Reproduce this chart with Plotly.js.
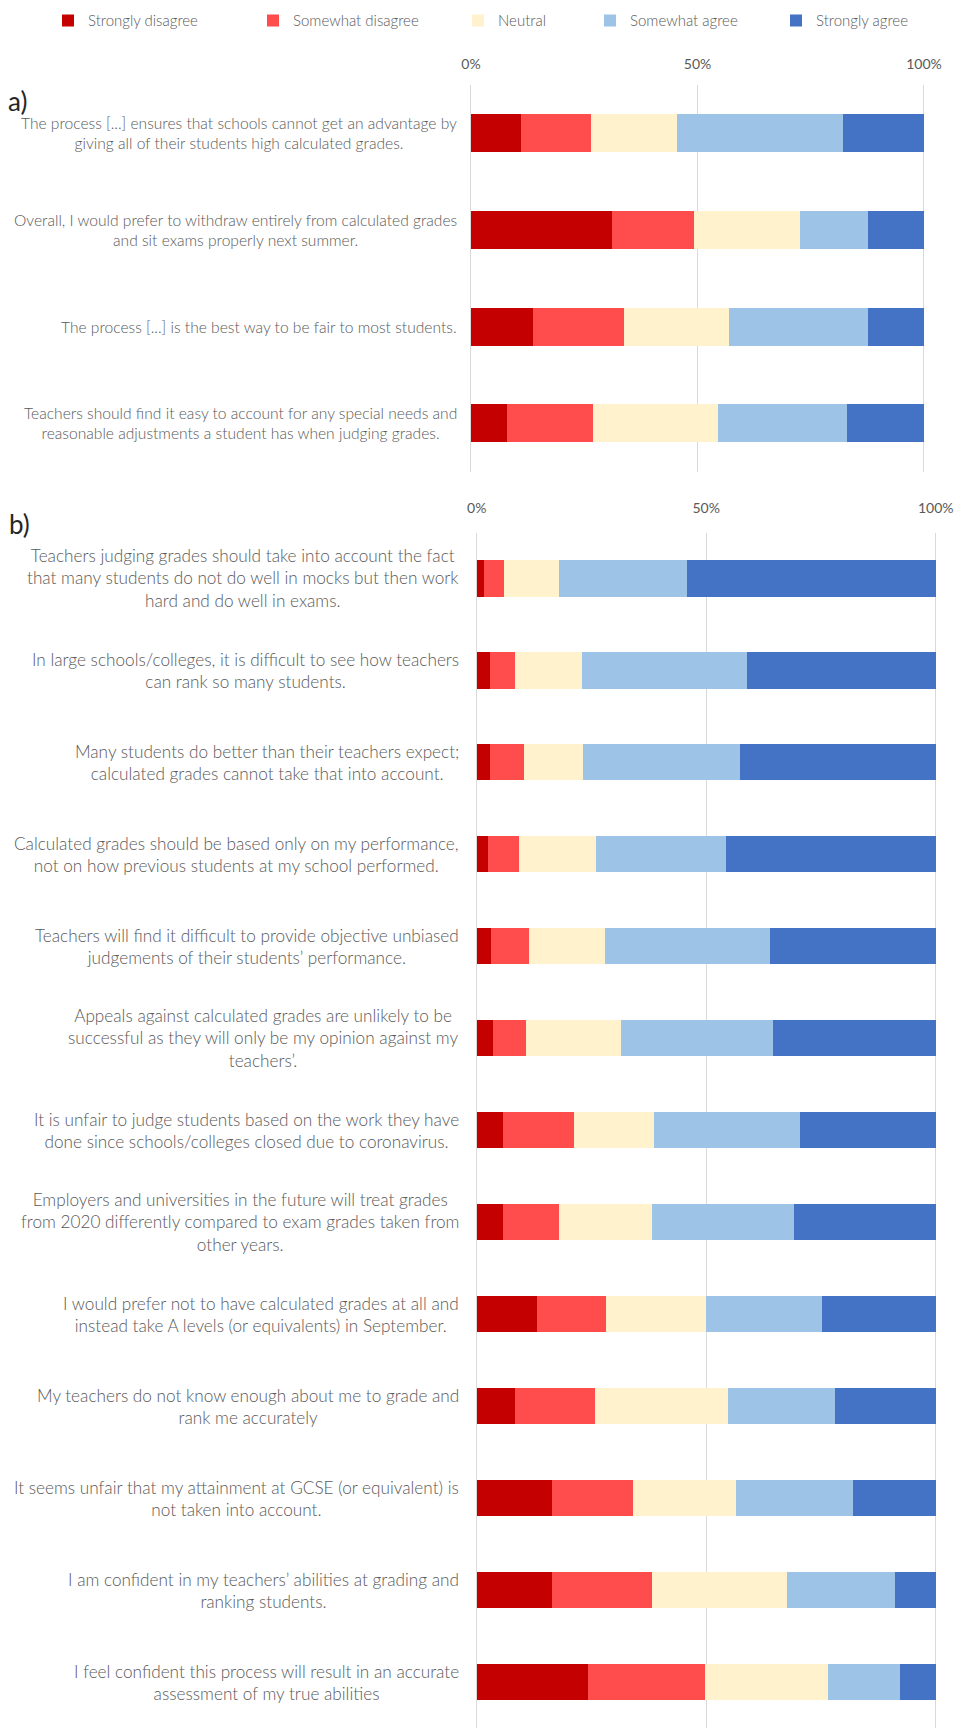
<!DOCTYPE html>
<html><head><meta charset="utf-8">
<script src="https://cdn.plot.ly/plotly-3.0.1.min.js"></script>
<style>html,body{margin:0;padding:0;background:#fff}</style>
</head><body>
<div id="chart" style="width:959px;height:1728px"></div>
<script>
// ---------- DATA ----------
const seriesNames = ["Strongly disagree", "Somewhat disagree", "Neutral", "Somewhat agree", "Strongly agree"];

const categoriesA = [
  "The process [...] ensures that schools cannot get an advantage by<br>giving all of their students high calculated grades.",
  "Overall, I would prefer to withdraw entirely from calculated grades<br>and sit exams properly next summer.",
  "The process [...] is the best way to be fair to most students.",
  "Teachers should find it easy to account for any special needs and<br>reasonable adjustments a student has when judging grades."
];
const stronglyDisagreeA = [11.0, 31.1, 13.6, 7.9];
const somewhatDisagreeA = [15.6, 18.1, 20.2, 19.0];
const neutralA          = [18.9, 23.4, 23.2, 27.6];
const somewhatAgreeA    = [36.7, 15.0, 30.6, 28.4];
const stronglyAgreeA    = [17.8, 12.4, 12.4, 17.1];

const categoriesB = [
  "Teachers judging grades should take into account the fact<br>that many students do not do well in mocks but then work<br>hard and do well in exams.",
  "In large schools/colleges, it is difficult to see how teachers<br>can rank so many students.",
  "Many students do better than their teachers expect;<br>calculated grades cannot take that into account.",
  "Calculated grades should be based only on my performance,<br>not on how previous students at my school performed.",
  "Teachers will find it difficult to provide objective unbiased<br>judgements of their students’ performance.",
  "Appeals against calculated grades are unlikely to be<br>successful as they will only be my opinion against my<br>teachers’.",
  "It is unfair to judge students based on the work they have<br>done since schools/colleges closed due to coronavirus.",
  "Employers and universities in the future will treat grades<br>from 2020 differently compared to exam grades taken from<br>other years.",
  "I would prefer not to have calculated grades at all and<br>instead take A levels (or equivalents) in September.",
  "My teachers do not know enough about me to grade and<br>rank me accurately",
  "It seems unfair that my attainment at GCSE (or equivalent) is<br>not taken into account.",
  "I am confident in my teachers’ abilities at grading and<br>ranking students.",
  "I feel confident this process will result in an accurate<br>assessment of my true abilities"
];
const stronglyDisagreeB = [1.5, 2.8, 2.8, 2.5, 3.1, 3.6, 5.7, 5.7, 13.1, 8.4, 16.3, 16.3, 24.3];
const somewhatDisagreeB = [4.5, 5.6, 7.4, 6.8, 8.2, 7.1, 15.4, 12.2, 15.1, 17.4, 17.8, 21.9, 25.4];
const neutralB          = [11.9, 14.5, 13.0, 16.6, 16.7, 20.8, 17.5, 20.2, 21.7, 28.9, 22.4, 29.3, 26.8];
const somewhatAgreeB    = [27.9, 35.9, 34.2, 28.5, 35.8, 33.0, 31.8, 31.1, 25.3, 23.4, 25.5, 23.7, 15.8];
const stronglyAgreeB    = [54.2, 41.2, 42.6, 45.6, 36.2, 35.5, 29.6, 30.8, 24.8, 21.9, 18.0, 8.8, 7.7];

const tickValues = [0, 50, 100];
const tickLabels = ["0%", "50%", "100%"];
const panelLabels = ["a)", "b)"];

// ---------- STYLE ----------
const colors = ["#C50000", "#FF4D4D", "#FFF2CC", "#9DC3E6", "#4472C4"];
const W = 959, H = 1728;
const FONT = "Lato, 'Open Sans', sans-serif";
const GREY = "#595959";
const seriesA = [stronglyDisagreeA, somewhatDisagreeA, neutralA, somewhatAgreeA, stronglyAgreeA];
const seriesB = [stronglyDisagreeB, somewhatDisagreeB, neutralB, somewhatAgreeB, stronglyAgreeB];
const legendKeys = ["legend", "legend2", "legend3", "legend4", "legend5"];
const legendX = [48, 253, 458, 590, 776];
// small padding of the range so that the 0% and 100% gridlines are drawn
const PADR = 0.4;

const traces = [];
seriesNames.forEach((name, i) => {
  traces.push({
    type: "bar", orientation: "h", name: name,
    x: seriesA[i], y: categoriesA, xaxis: "x", yaxis: "y",
    marker: {color: colors[i], line: {width: 0}},
    legend: legendKeys[i], showlegend: true, hoverinfo: "none"
  });
  traces.push({
    type: "bar", orientation: "h", name: name,
    x: seriesB[i], y: categoriesB, xaxis: "x2", yaxis: "y2",
    marker: {color: colors[i], line: {width: 0}},
    legend: legendKeys[i], showlegend: false, hoverinfo: "none"
  });
});

function xAxis(px0, px100, anchor, standoff) {
  const u = (px100 - px0) / 100;
  return {
    domain: [(px0 - PADR * u) / W, (px100 + PADR * u) / W], anchor: anchor,
    range: [-PADR, 100 + PADR], side: "top",
    tickmode: "array", tickvals: tickValues, ticktext: tickLabels,
    showgrid: true, gridcolor: "#D9D9D9", gridwidth: 1,
    zeroline: false, showline: false, ticks: "",
    ticklabelstandoff: standoff,
    tickfont: {family: FONT, size: 14, color: GREY}, fixedrange: true
  };
}
function yAxis(domain, anchor) {
  return {
    domain: domain, anchor: anchor, type: "category", autorange: "reversed",
    showticklabels: false, showgrid: false, zeroline: false, showline: false,
    ticks: "", fixedrange: true
  };
}

const annotations = [];
categoriesA.forEach(c => annotations.push({
  xref: "paper", x: 459 / W, xanchor: "right", yref: "y", y: c, text: c,
  showarrow: false, align: "center", font: {family: FONT, size: 15.6, weight: 300, color: GREY}
}));
categoriesB.forEach(c => annotations.push({
  xref: "paper", x: 461 / W, xanchor: "right", yref: "y2", y: c, text: c,
  showarrow: false, align: "center", font: {family: FONT, size: 17.2, weight: 300, color: GREY}
}));
annotations.push({xref: "paper", yref: "paper", x: 6 / W, y: 1 - 101 / H, xanchor: "left", yanchor: "middle",
  text: panelLabels[0], showarrow: false, font: {family: FONT, size: 26, color: "#262626"}});
annotations.push({xref: "paper", yref: "paper", x: 7 / W, y: 1 - 524 / H, xanchor: "left", yanchor: "middle",
  text: panelLabels[1], showarrow: false, font: {family: FONT, size: 26, color: "#262626"}});

const layout = {
  width: W, height: H, autosize: false,
  margin: {l: 0, r: 0, t: 0, b: 0, pad: 0},
  paper_bgcolor: "#ffffff", plot_bgcolor: "rgba(0,0,0,0)",
  barmode: "stack", bargap: 0.607,
  xaxis: xAxis(471, 924, "y", 12),
  yaxis: yAxis([1 - 471.5 / H, 1 - 85 / H], "x"),
  xaxis2: xAxis(476.7, 935.7, "y2", 16),
  yaxis2: yAxis([0, 1 - 532.5 / H], "x2"),
  annotations: annotations,
  showlegend: true
};
legendKeys.forEach((k, i) => {
  layout[k] = {
    x: legendX[i] / W, y: 1 - 20.7 / H, xanchor: "left", yanchor: "middle",
    orientation: "h", bgcolor: "rgba(0,0,0,0)", borderwidth: 0,
    font: {family: FONT, size: 15, weight: 300, color: GREY}
  };
});

Plotly.newPlot("chart", traces, layout, {staticPlot: true, displayModeBar: false});
</script>
</body></html>
